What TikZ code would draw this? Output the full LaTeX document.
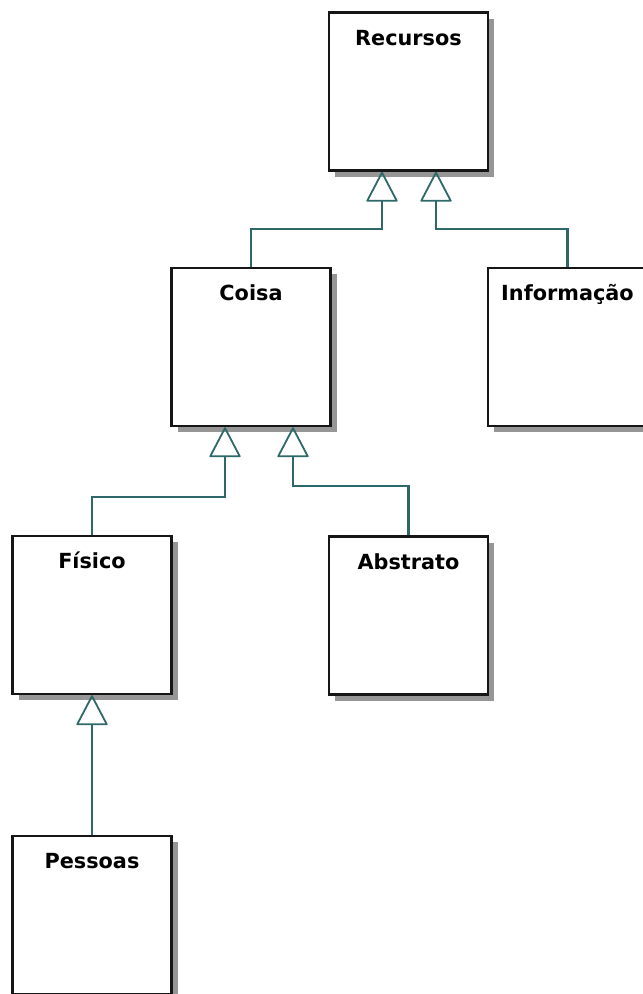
\documentclass[tikz,border=0pt]{standalone}
\usepackage{fontspec}
\setmainfont{DejaVu Sans}
\usetikzlibrary{arrows.meta,shadows}
\definecolor{linkteal}{RGB}{46,104,104}
\definecolor{boxline}{RGB}{22,22,22}
\definecolor{shadowgray}{RGB}{150,150,150}
\begin{document}
\begin{tikzpicture}[x=1pt,y=-1pt,
  classbox/.style={draw=boxline, line width=2.4pt, fill=white, rectangle,
    minimum width=159pt, minimum height=158pt, inner sep=0pt,
    drop shadow={shadow xshift=6pt, shadow yshift=-6pt, fill=shadowgray, opacity=1}},
  classname/.style={anchor=base, inner sep=0pt, font=\fontsize{20.8}{24}\selectfont\bfseries},
  gen/.style={draw=linkteal, line width=2.2pt,
    -{Triangle[open, length=31pt, width=32pt, line width=1.8pt, round]}}]
  \useasboundingbox (0,0) rectangle (643,994);
  \clip (0,0) rectangle (643,994);
  \fill[white] (0,0) rectangle (643,994);

  % class boxes
  \node[classbox] (recursos) at (408.5,91.5) {};
  \node[classbox] (coisa)    at (251,347)    {};
  \node[classbox] (info)     at (567.5,347)  {};
  \node[classbox] (fisico)   at (92,615)     {};
  \node[classbox] (abstrato) at (408.5,615.5) {};
  \node[classbox] (pessoas)  at (92,915)     {};

  % class names
  \node[classname] (recursosname) at ([yshift=-34pt]recursos.north) {Recursos};
  \node[classname] (coisaname)    at ([yshift=-34pt]coisa.north)    {Coisa};
  \node[classname] (infoname)     at ([yshift=-34pt]info.north)     {Informação};
  \node[classname] (fisiconame)   at ([yshift=-34pt]fisico.north)   {Físico};
  \node[classname] (abstratoname) at ([yshift=-34pt]abstrato.north) {Abstrato};
  \node[classname] (pessoasname)  at ([yshift=-34pt]pessoas.north)  {Pessoas};

  % generalisation links
  \draw[gen] (coisa.north) -- ++(0,-38) -| ([xshift=-26.5pt]recursos.south);
  \draw[gen] (info.north) -- ++(0,-38) -| ([xshift=27.5pt]recursos.south);
  \draw[gen] (fisico.north) -- ++(0,-38) -| ([xshift=-26pt]coisa.south);
  \draw[gen] (abstrato.north) -- ++(0,-49) -| ([xshift=42pt]coisa.south);
  \draw[gen] (pessoas.north) -- (fisico.south);
\end{tikzpicture}
\end{document}
